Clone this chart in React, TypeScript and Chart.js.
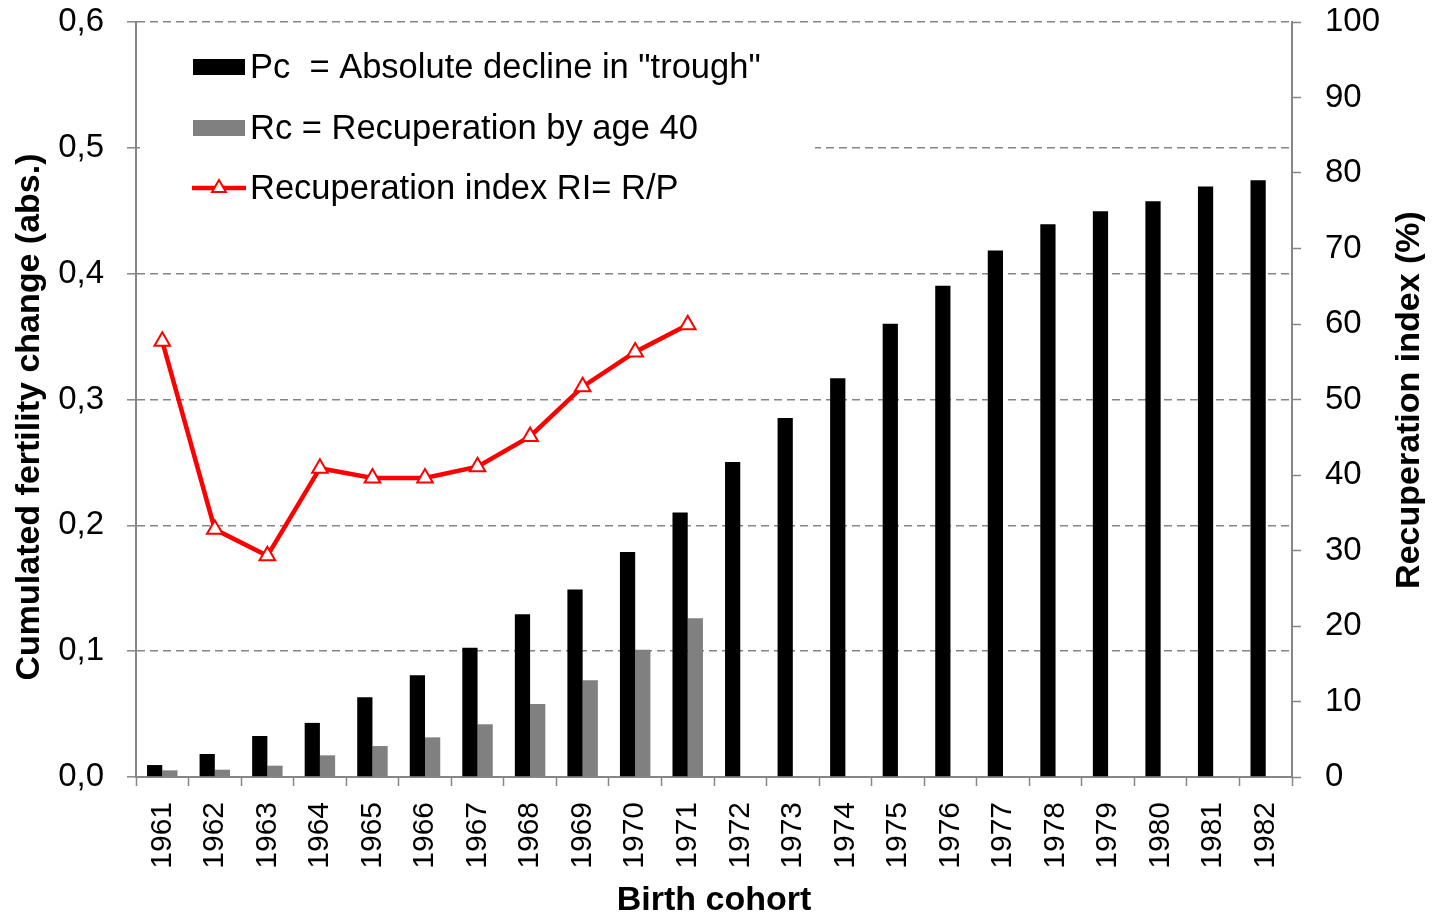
import React, { useEffect, useRef } from 'react';
import { Chart, registerables } from 'chart.js';

Chart.register(...registerables);

const cohorts = ['1961', '1962', '1963', '1964', '1965', '1966', '1967', '1968', '1969', '1970', '1971', '1972', '1973', '1974', '1975', '1976', '1977', '1978', '1979', '1980', '1981', '1982'];
const pcValues = [0.0095, 0.0183, 0.0326, 0.043, 0.0633, 0.0808, 0.1028, 0.1293, 0.149, 0.1788, 0.2102, 0.2503, 0.2853, 0.3168, 0.3602, 0.3903, 0.4184, 0.4393, 0.4496, 0.4576, 0.4693, 0.4743];
const rcValues = [0.0053, 0.0058, 0.009, 0.0172, 0.0246, 0.0315, 0.0419, 0.058, 0.0769, 0.1011, 0.1261, null, null, null, null, null, null, null, null, null, null, null];
const riValues = [57.7, 32.8, 29.3, 40.9, 39.6, 39.6, 41.1, 45.1, 51.7, 56.3, 59.9, null, null, null, null, null, null, null, null, null, null, null];
const seriesLabels = ['Pc  = Absolute decline in "trough"', 'Rc = Recuperation by age 40', 'Recuperation index RI= R/P'];
const axisTitles = ['Cumulated fertility change (abs.)', 'Recuperation index (%)', 'Birth cohort'];

const FONT = 'Liberation Sans, Arial, Helvetica, sans-serif';
const AXIS_GREY = '#868686';

const customPlugin = {
  id: 'customDecor',
  afterDraw(chart: any) {
    const ctx = chart.ctx;
    const ds = chart.data.datasets;
    ctx.save();
    // legend box
    ctx.fillStyle = '#ffffff';
    ctx.fillRect(132, 24, 675, 186);
    ctx.font = `34.5px ${FONT}`;
    ctx.textBaseline = 'middle';
    ctx.textAlign = 'left';
    const rows = [59, 120, 180];
    // bar swatches
    ctx.fillStyle = ds[0].backgroundColor;
    ctx.fillRect(185, rows[0] - 8, 52, 16);
    ctx.fillStyle = ds[1].backgroundColor;
    ctx.fillRect(185, rows[1] - 8, 52, 16);
    // line swatch
    ctx.strokeStyle = ds[2].borderColor;
    ctx.lineWidth = 4.5;
    ctx.beginPath();
    ctx.moveTo(184, rows[2]);
    ctx.lineTo(238, rows[2]);
    ctx.stroke();
    const r = 8;
    const cx = 211;
    const cy = rows[2];
    ctx.fillStyle = '#ffffff';
    ctx.lineWidth = 2;
    ctx.beginPath();
    ctx.moveTo(cx, cy - r);
    ctx.lineTo(cx + r * 0.866, cy + r * 0.5);
    ctx.lineTo(cx - r * 0.866, cy + r * 0.5);
    ctx.closePath();
    ctx.fill();
    ctx.stroke();
    ctx.fillStyle = '#000000';
    ds.forEach((d: any, i: number) => {
      ctx.fillText(d.label, 242, rows[i] + 1);
    });
    // y axis titles
    ctx.font = `bold 34px ${FONT}`;
    ctx.textAlign = 'center';
    ctx.textBaseline = 'middle';
    ctx.save();
    ctx.translate(22, 409);
    ctx.rotate(-Math.PI / 2);
    ctx.fillText(axisTitles[0], 0, 0);
    ctx.restore();
    ctx.save();
    ctx.translate(1402, 392);
    ctx.rotate(-Math.PI / 2);
    ctx.fillText(axisTitles[1], 0, 0);
    ctx.restore();
    ctx.restore();
  },
};

const noPad = (scale: any) => {
  scale.paddingTop = 0;
  scale.paddingBottom = 0;
};

export default function App() {
  const canvasRef = useRef<HTMLCanvasElement | null>(null);

  useEffect(() => {
    if (!canvasRef.current) return;
    const chart = new Chart(canvasRef.current, {
      type: 'bar',
      data: {
        labels: cohorts,
        datasets: [
          {
            type: 'bar',
            label: seriesLabels[0],
            data: pcValues,
            backgroundColor: '#000000',
            yAxisID: 'y',
            order: 1,
            categoryPercentage: 0.58,
            barPercentage: 1,
          },
          {
            type: 'bar',
            label: seriesLabels[1],
            data: rcValues,
            backgroundColor: '#808080',
            yAxisID: 'y',
            order: 1,
            categoryPercentage: 0.58,
            barPercentage: 1,
          },
          {
            type: 'line',
            label: seriesLabels[2],
            data: riValues,
            borderColor: '#ff0000',
            borderWidth: 4.5,
            pointStyle: 'triangle',
            pointRadius: 9,
            pointBackgroundColor: '#ffffff',
            pointBorderColor: '#ff0000',
            pointBorderWidth: 2,
            yAxisID: 'y1',
            order: 0,
            tension: 0,
          },
        ] as any,
      },
      options: {
        responsive: true,
        maintainAspectRatio: false,
        animation: false,
        layout: { padding: { top: 14, left: 0, right: 0, bottom: 0 } },
        plugins: {
          legend: { display: false },
          tooltip: { enabled: false },
        },
        scales: {
          x: {
            grid: {
              offset: true,
              drawOnChartArea: false,
              drawTicks: true,
              tickLength: 9,
              tickColor: AXIS_GREY,
              tickWidth: 1.5,
            },
            border: { color: AXIS_GREY, width: 2 },
            ticks: {
              color: '#000',
              font: { family: FONT, size: 30 },
              minRotation: 90,
              maxRotation: 90,
              padding: 16,
              autoSkip: false,
            },
            title: {
              display: true,
              text: axisTitles[2],
              color: '#000',
              font: { family: FONT, size: 34, weight: 'bold', lineHeight: 1 },
              padding: { top: 0, bottom: -4 },
            },
            afterFit: (scale: any) => {
              scale.height = 137;
              scale.paddingLeft = 0;
              scale.paddingRight = 0;
            },
          },
          y: {
            position: 'left',
            min: 0,
            max: 0.6,
            ticks: {
              stepSize: 0.1,
              color: '#000',
              font: { family: FONT, size: 33 },
              padding: 23,
              callback: (v: any) => Number(v).toFixed(1).replace('.', ','),
            },
            grid: {
              color: '#858585',
              lineWidth: 1.6,
              drawTicks: true,
              tickLength: 9,
              tickColor: AXIS_GREY,
              tickWidth: 1.5,
            },
            border: { color: AXIS_GREY, width: 2, dash: [8, 5] },
            afterFit: (scale: any) => {
              scale.width = 128;
              noPad(scale);
            },
          },
          y1: {
            position: 'right',
            min: 0,
            max: 100,
            ticks: {
              stepSize: 10,
              color: '#000',
              font: { family: FONT, size: 33 },
              padding: 24,
            },
            grid: {
              drawOnChartArea: false,
              drawTicks: true,
              tickLength: 9,
              tickColor: AXIS_GREY,
              tickWidth: 1.5,
            },
            border: { color: AXIS_GREY, width: 2 },
            afterFit: (scale: any) => {
              scale.width = 133;
              noPad(scale);
            },
          },
        },
      } as any,
      plugins: [customPlugin],
    });
    return () => chart.destroy();
  }, []);

  return (
    <div style={{ width: 1417, height: 906, position: 'relative' }}>
      <canvas ref={canvasRef} />
    </div>
  );
}
